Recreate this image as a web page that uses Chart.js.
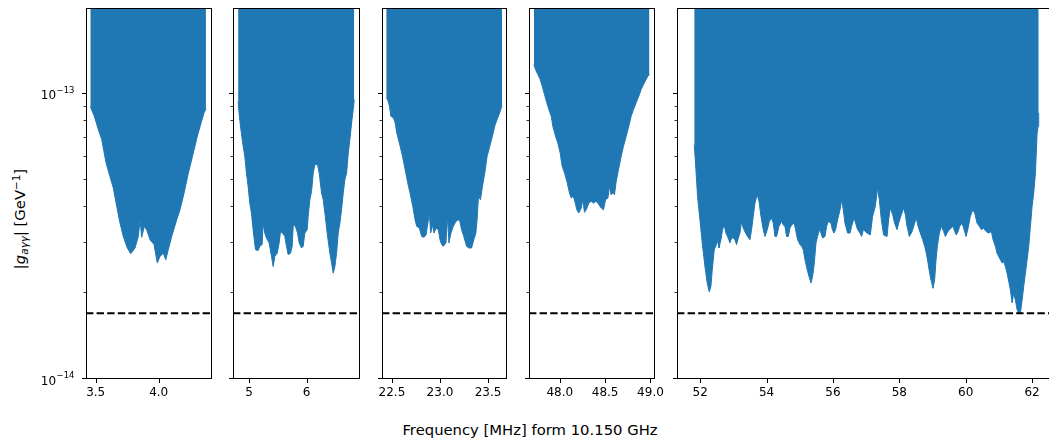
<!DOCTYPE html>
<html>
<head>
<meta charset="utf-8">
<script src="https://cdn.jsdelivr.net/npm/chart.js@4.4.1/dist/chart.umd.min.js"></script>
<style>
  html, body { margin: 0; padding: 0; background: #fff; }
  #fig { position: relative; width: 1049px; height: 446px; overflow: hidden;
         font-family: "DejaVu Sans", sans-serif; color: #000; }
  #fig canvas { position: absolute; top: 0; }
  #ylab { position: absolute; left: 20px; top: 219px; white-space: nowrap; font-size: 14.8px;
          transform: translate(-50%, -50%) rotate(-90deg); }
  #ylab sub { font-size: 0.7em; vertical-align: -0.28em; }
  #ylab sup { font-size: 0.7em; vertical-align: 0.5em; }
  #xlab { position: absolute; left: 0; width: 1060px; top: 421px; text-align: center;
          font-size: 14.8px; line-height: 18px; white-space: nowrap; }
</style>
</head>
<body>
<div id="fig">
  <div id="ylab">|<i>g</i><sub><i>aγγ</i></sub>| [GeV<sup>−1</sup>]</div>
  <div id="xlab">Frequency [MHz] form 10.150 GHz</div>
</div>
<script>
// ---- data ----
const LIMIT = 1.7e-14;            // dashed horizontal line
const Y_MIN = 1e-14, Y_MAX = 2e-13;
const yMajor = [1e-14, 1e-13];
const yMajorBase = '10';
const yMajorExp = ['−14', '−13'];
const yMinor = [2e-14, 3e-14, 4e-14, 5e-14, 6e-14, 7e-14, 8e-14, 9e-14];

const xLimits = [[3.423, 4.423], [4.72, 6.93], [22.397, 23.697], [47.66, 49.05], [51.30, 62.72]];
const xTicks = [[3.5, 4.0], [5, 6], [22.5, 23.0, 23.5], [48.0, 48.5, 49.0], [52, 54, 56, 58, 60, 62]];
const xTickLabels = [['3.5', '4.0'], ['5', '6'], ['22.5', '23.0', '23.5'], ['48.0', '48.5', '49.0'],
                     ['52', '54', '56', '58', '60', '62']];

const freq1 = [3.457,3.489,3.521,3.548,3.582,3.613,3.640,3.667,3.693,3.719,3.751,3.778,3.812,3.838,3.852,
  3.865,3.886,3.905,3.931,3.963,3.989,4.010,4.037,4.056,4.076,4.103,4.143,4.169,4.201,4.235,4.275,4.306,
  4.336,4.360,4.375];
const g1 = [9.02e-14,8.35e-14,7.49e-14,6.91e-14,5.73e-14,5.13e-14,4.67e-14,4.03e-14,3.52e-14,3.16e-14,
  2.88e-14,2.75e-14,2.88e-14,3.16e-14,3.62e-14,3.14e-14,3.43e-14,3.33e-14,3.08e-14,2.96e-14,2.55e-14,
  2.69e-14,2.76e-14,2.62e-14,2.84e-14,3.16e-14,3.62e-14,3.92e-14,4.48e-14,5.27e-14,6.21e-14,7.09e-14,
  7.91e-14,8.58e-14,8.86e-14];

const freq2 = [4.809,4.826,4.850,4.884,4.925,4.954,4.983,5.012,5.041,5.070,5.111,5.157,5.186,5.227,5.244,
  5.273,5.303,5.349,5.390,5.419,5.448,5.488,5.523,5.547,5.581,5.622,5.651,5.680,5.721,5.750,5.767,5.796,
  5.825,5.843,5.872,5.912,5.941,5.970,6.011,6.028,6.057,6.087,6.116,6.145,6.191,6.220,6.261,6.290,6.319,
  6.359,6.406,6.435,6.464,6.493,6.522,6.551,6.580,6.609,6.638,6.667,6.697,6.726,6.754,6.784,6.812,6.830];
const g2 = [9.42e-14,8.58e-14,7.70e-14,6.82e-14,6.04e-14,5.28e-14,4.74e-14,4.14e-14,3.82e-14,3.34e-14,
  2.84e-14,2.82e-14,2.92e-14,2.96e-14,3.52e-14,3.25e-14,3.12e-14,3.00e-14,2.69e-14,2.48e-14,2.69e-14,
  2.76e-14,3.00e-14,3.29e-14,3.25e-14,3.16e-14,2.92e-14,2.73e-14,2.76e-14,2.92e-14,3.43e-14,3.47e-14,
  3.34e-14,3.25e-14,3.00e-14,2.88e-14,2.92e-14,3.25e-14,3.34e-14,3.72e-14,4.25e-14,4.55e-14,5.28e-14,
  5.65e-14,5.65e-14,5.28e-14,4.49e-14,4.25e-14,3.82e-14,3.25e-14,2.76e-14,2.55e-14,2.35e-14,2.48e-14,
  2.76e-14,3.25e-14,3.52e-14,3.92e-14,4.49e-14,5.00e-14,5.28e-14,6.20e-14,6.91e-14,7.91e-14,8.81e-14,
  9.55e-14];

const freq3 = [22.441,22.455,22.475,22.489,22.517,22.534,22.551,22.586,22.610,22.638,22.672,22.689,22.717,
  22.741,22.758,22.786,22.810,22.834,22.855,22.869,22.890,22.903,22.924,22.938,22.959,22.983,23.000,23.017,
  23.034,23.062,23.079,23.093,23.114,23.138,23.166,23.190,23.207,23.224,23.248,23.276,23.300,23.328,23.352,
  23.373,23.386,23.400,23.421,23.442,23.466,23.490,23.518,23.545,23.569,23.593,23.621,23.638,23.645];
const g3 = [9.68e-14,9.55e-14,9.05e-14,8.35e-14,8.23e-14,7.91e-14,7.29e-14,6.55e-14,6.04e-14,5.42e-14,
  4.74e-14,4.49e-14,4.03e-14,3.62e-14,3.43e-14,3.38e-14,3.16e-14,3.14e-14,3.20e-14,3.43e-14,3.82e-14,
  3.25e-14,3.47e-14,3.25e-14,3.38e-14,3.34e-14,3.08e-14,2.96e-14,2.92e-14,3.00e-14,3.72e-14,3.00e-14,
  3.25e-14,3.43e-14,3.57e-14,3.62e-14,3.57e-14,3.34e-14,3.16e-14,2.92e-14,2.88e-14,2.88e-14,3.08e-14,
  3.25e-14,3.62e-14,4.37e-14,4.25e-14,4.74e-14,5.28e-14,6.04e-14,6.55e-14,7.10e-14,7.70e-14,8.12e-14,
  8.58e-14,8.93e-14,9.05e-14];

const freq4 = [47.714,47.732,47.758,47.784,47.806,47.831,47.857,47.879,47.905,47.923,47.953,47.978,48.004,
  48.026,48.052,48.078,48.107,48.125,48.144,48.162,48.188,48.210,48.236,48.254,48.272,48.291,48.320,48.346,
  48.372,48.401,48.430,48.456,48.482,48.504,48.530,48.548,48.566,48.585,48.603,48.622,48.647,48.677,48.702,
  48.732,48.761,48.787,48.813,48.842,48.871,48.897,48.923,48.952,48.971,48.989];
const g4 = [1.267e-13,1.217e-13,1.169e-13,1.123e-13,1.064e-13,9.94e-14,9.30e-14,8.81e-14,8.35e-14,7.70e-14,
  7.10e-14,6.72e-14,6.20e-14,5.57e-14,5.28e-14,4.93e-14,4.49e-14,4.31e-14,4.37e-14,4.25e-14,3.92e-14,
  3.82e-14,3.98e-14,4.25e-14,3.84e-14,3.92e-14,4.14e-14,4.20e-14,4.14e-14,4.20e-14,4.09e-14,3.98e-14,
  3.92e-14,4.25e-14,4.31e-14,4.74e-14,4.43e-14,4.49e-14,4.43e-14,4.93e-14,5.42e-14,6.04e-14,6.55e-14,
  7.10e-14,7.70e-14,8.35e-14,8.81e-14,9.30e-14,9.81e-14,1.035e-13,1.078e-13,1.123e-13,1.153e-13,1.169e-13];

const freq5 = [51.819,51.858,51.919,51.991,52.060,52.142,52.211,52.271,52.322,52.362,
  52.422,52.491,52.543,52.564,52.624,52.672,52.724,52.775,52.844,52.895,
  52.944,52.995,53.046,53.094,53.146,53.197,53.245,53.296,53.366,53.426,
  53.498,53.547,53.598,53.649,53.718,53.770,53.830,53.899,53.951,54.020,
  54.080,54.150,54.201,54.252,54.300,54.373,54.451,54.502,54.553,54.602,
  54.653,54.704,54.752,54.834,54.873,54.933,55.006,55.054,55.105,55.156,
  55.226,55.277,55.337,55.386,55.437,55.488,55.536,55.588,55.639,55.687,
  55.759,55.808,55.859,55.940,55.980,56.031,56.079,56.139,56.212,56.260,
  56.311,56.362,56.441,56.513,56.561,56.634,56.682,56.742,56.815,56.863,
  56.914,57.026,57.125,57.194,57.276,57.345,57.396,57.457,57.526,57.629,
  57.677,57.728,57.798,57.858,57.930,57.978,58.060,58.129,58.181,58.232,
  58.301,58.383,58.461,58.512,58.563,58.632,58.702,58.762,58.813,58.865,
  58.913,58.964,59.015,59.063,59.106,59.145,59.205,59.266,59.335,59.386,
  59.438,59.507,59.618,59.667,59.718,59.769,59.817,59.890,59.938,60.010,
  60.070,60.140,60.209,60.270,60.342,60.411,60.472,60.541,60.613,60.692,
  60.773,60.824,60.894,60.945,60.993,61.044,61.096,61.144,61.195,61.246,
  61.295,61.346,61.397,61.446,61.497,61.548,61.596,61.647,61.699,61.747,
  61.798,61.849,61.898,61.949,62.000,62.049,62.100,62.130,62.151,62.181,
  62.199];
const g5 = [6.64e-14,5.72e-14,4.37e-14,3.62e-14,3.00e-14,2.48e-14,2.17e-14,2.02e-14,2.11e-14,2.41e-14,
  2.84e-14,2.96e-14,3.08e-14,2.88e-14,3.08e-14,3.34e-14,3.47e-14,3.25e-14,3.12e-14,3.00e-14,
  3.12e-14,3.12e-14,3.08e-14,2.96e-14,3.12e-14,3.25e-14,3.57e-14,3.38e-14,3.25e-14,3.16e-14,
  3.08e-14,3.34e-14,3.72e-14,4.14e-14,4.43e-14,4.20e-14,3.72e-14,3.34e-14,3.16e-14,3.34e-14,
  3.57e-14,3.67e-14,3.52e-14,3.16e-14,3.16e-14,3.43e-14,3.57e-14,3.47e-14,3.43e-14,3.16e-14,
  3.16e-14,3.38e-14,3.47e-14,3.52e-14,3.34e-14,3.08e-14,2.96e-14,2.92e-14,2.84e-14,2.62e-14,
  2.41e-14,2.29e-14,2.17e-14,2.29e-14,2.55e-14,3.00e-14,3.16e-14,3.34e-14,3.25e-14,3.12e-14,
  3.16e-14,3.43e-14,3.57e-14,3.52e-14,3.34e-14,3.25e-14,3.34e-14,3.62e-14,3.92e-14,4.25e-14,
  3.92e-14,3.52e-14,3.25e-14,3.25e-14,3.43e-14,3.67e-14,3.52e-14,3.34e-14,3.25e-14,3.16e-14,
  3.34e-14,3.25e-14,3.20e-14,3.72e-14,4.03e-14,4.68e-14,4.25e-14,3.62e-14,3.20e-14,3.16e-14,
  3.62e-14,3.98e-14,3.77e-14,3.52e-14,3.34e-14,3.52e-14,3.77e-14,3.98e-14,3.77e-14,3.43e-14,
  3.16e-14,3.29e-14,3.52e-14,3.67e-14,3.43e-14,3.25e-14,3.08e-14,2.92e-14,2.76e-14,2.55e-14,
  2.35e-14,2.20e-14,2.08e-14,2.23e-14,2.62e-14,2.92e-14,3.25e-14,3.43e-14,3.29e-14,3.16e-14,
  3.25e-14,3.34e-14,3.43e-14,3.29e-14,3.20e-14,3.29e-14,3.43e-14,3.52e-14,3.38e-14,3.16e-14,
  3.38e-14,3.72e-14,3.92e-14,3.82e-14,3.52e-14,3.43e-14,3.34e-14,3.38e-14,3.29e-14,3.25e-14,
  3.29e-14,3.08e-14,2.92e-14,2.76e-14,2.69e-14,2.62e-14,2.55e-14,2.58e-14,2.48e-14,2.35e-14,
  2.20e-14,2.05e-14,1.85e-14,2.00e-14,1.89e-14,1.75e-14,1.70e-14,1.70e-14,1.89e-14,2.11e-14,
  2.35e-14,2.62e-14,2.92e-14,3.43e-14,4.03e-14,4.49e-14,5.28e-14,6.37e-14,7.29e-14,7.70e-14,
  8.58e-14];

const freqs = [freq1, freq2, freq3, freq4, freq5];
const limits = [g1, g2, g3, g4, g5];

// ---- layout (page pixels) ----
const FIG_H = 446, AREA_TOP = 8, X_AXIS_H = 67;
const panels = [
  { left: 86,  right: 212,  yw: 86, padR: 14 },
  { left: 233, right: 360,  yw: 8,  padR: 14 },
  { left: 382, right: 507,  yw: 8,  padR: 14 },
  { left: 529, right: 655,  yw: 8,  padR: 14 },
  { left: 677, right: 1056, yw: 8,  padR: 14 },
];
const FILL = '#1f77b4';
const FONT_FAMILY = '"DejaVu Sans", sans-serif';
const FONT = { family: FONT_FAMILY, size: 12 };

// spines + tick marks (+ mathtext-like y labels on the first panel)
const framePlugin = {
  id: 'frame',
  afterDatasetsDraw(chart, args, opts) {
    const { ctx, chartArea: a, scales } = chart;
    ctx.save();
    ctx.strokeStyle = '#000';

    ctx.lineWidth = 1;
    ctx.beginPath();
    yMajor.forEach(v => {
      const y = Math.round(scales.y.getPixelForValue(v)) - 0.5;
      ctx.moveTo(a.left, y); ctx.lineTo(a.left - 4, y);
    });
    xTicks[opts.idx].forEach(v => {
      const x = Math.round(scales.x.getPixelForValue(v)) + 0.5;
      ctx.moveTo(x, a.bottom); ctx.lineTo(x, a.bottom + 4);
    });
    ctx.stroke();

    ctx.lineWidth = 0.8;
    ctx.beginPath();
    yMinor.forEach(v => {
      const y = Math.round(scales.y.getPixelForValue(v)) - 0.5;
      ctx.moveTo(a.left, y); ctx.lineTo(a.left - 2.5, y);
    });
    ctx.stroke();

    ctx.lineWidth = 1;
    ctx.strokeRect(a.left + 0.5, a.top + 0.5, a.right - a.left - 1, a.bottom - a.top - 1);

    if (opts.idx === 0) {
      ctx.fillStyle = '#000';
      ctx.textAlign = 'right';
      ctx.textBaseline = 'alphabetic';
      const xr = a.left - 11.5;
      yMajor.forEach((v, k) => {
        const y = scales.y.getPixelForValue(v);
        ctx.font = '8.5px ' + FONT_FAMILY;
        const ew = ctx.measureText(yMajorExp[k]).width;
        ctx.fillText(yMajorExp[k], xr, y - 1);
        ctx.font = '12px ' + FONT_FAMILY;
        ctx.fillText(yMajorBase, xr - ew - 0.5, y + 5.5);
      });
    }
    ctx.restore();
  }
};

function buildPanel(i) {
  const g = panels[i];
  const [xmin, xmax] = xLimits[i];
  const canvas = document.createElement('canvas');
  const left = g.left - g.yw;
  const width = g.right - left + g.padR;
  canvas.width = width;
  canvas.height = FIG_H;
  canvas.style.left = left + 'px';
  canvas.style.width = width + 'px';
  canvas.style.height = FIG_H + 'px';
  document.getElementById('fig').appendChild(canvas);

  const pts = freqs[i].map((f, k) => ({ x: f, y: limits[i][k] }));

  new Chart(canvas.getContext('2d'), {
    type: 'line',
    data: {
      datasets: [
        {
          data: [{ x: xmin, y: LIMIT }, { x: xmax, y: LIMIT }],
          borderColor: '#000',
          borderWidth: 2,
          borderDash: [7.4, 3.2],
          pointRadius: 0,
          fill: false,
        },
        {
          data: pts,
          borderColor: FILL,
          backgroundColor: FILL,
          borderWidth: 1,
          pointRadius: 0,
          tension: 0,
          fill: 'end',
        },
      ],
    },
    options: {
      responsive: false,
      animation: false,
      devicePixelRatio: 1,
      events: [],
      layout: { padding: { top: AREA_TOP, right: g.padR, bottom: 0, left: 0 } },
      plugins: { legend: { display: false }, tooltip: { enabled: false }, frame: { idx: i } },
      scales: {
        x: {
          type: 'linear',
          min: xmin,
          max: xmax,
          grid: { display: false, drawTicks: false },
          border: { display: false },
          ticks: {
            font: FONT, color: '#000', padding: 7, maxRotation: 0, autoSkip: false,
            callback: (v, idx) => xTickLabels[i][idx],
          },
          afterBuildTicks: s => { s.ticks = xTicks[i].map(v => ({ value: v })); },
          afterFit: s => { s.height = X_AXIS_H; s.paddingLeft = 0; s.paddingRight = 0; },
        },
        y: {
          type: 'logarithmic',
          min: Y_MIN,
          max: Y_MAX,
          grid: { display: false, drawTicks: false },
          border: { display: false },
          ticks: { display: false },
          afterBuildTicks: s => { s.ticks = yMajor.map(v => ({ value: v })); },
          afterFit: s => { s.width = g.yw; s.paddingTop = 0; s.paddingBottom = 0; },
        },
      },
    },
    plugins: [framePlugin],
  });
}

for (let i = 0; i < panels.length; i++) buildPanel(i);
</script>
</body>
</html>
